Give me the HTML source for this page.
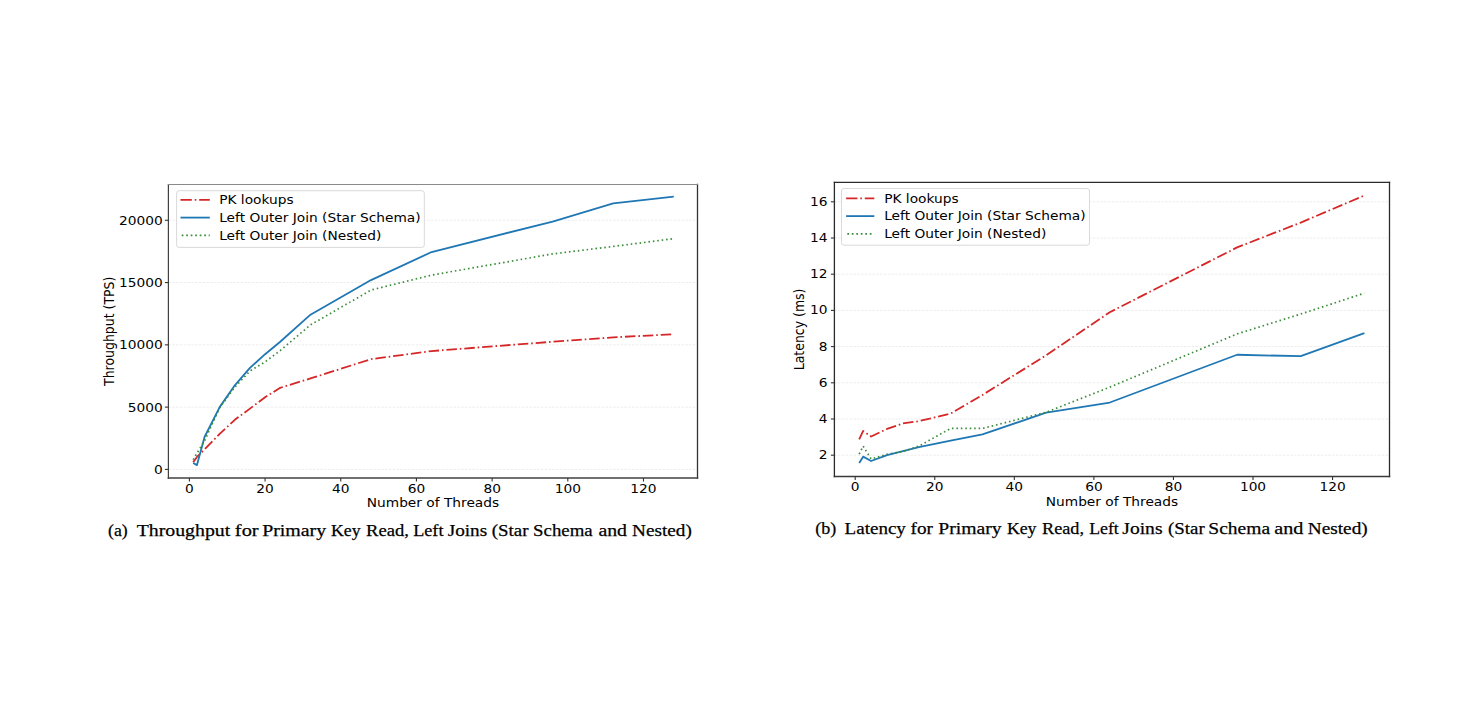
<!DOCTYPE html>
<html><head><meta charset="utf-8"><title>Throughput and Latency</title>
<style>html,body{margin:0;padding:0;background:#fff;} body{width:1483px;height:711px;overflow:hidden;} svg{display:block;}</style>
</head><body>
<svg width="1483" height="711" viewBox="0 0 1483 711">
<rect width="1483" height="711" fill="#fff"/>
<clipPath id="cl"><rect x="168.4" y="184.5" width="529.1" height="293.6"/></clipPath>
<line x1="168.4" y1="469.4" x2="697.5" y2="469.4" stroke="#ededed" stroke-width="1" stroke-dasharray="2.6,1.2"/>
<line x1="168.4" y1="407.12" x2="697.5" y2="407.12" stroke="#ededed" stroke-width="1" stroke-dasharray="2.6,1.2"/>
<line x1="168.4" y1="344.84" x2="697.5" y2="344.84" stroke="#ededed" stroke-width="1" stroke-dasharray="2.6,1.2"/>
<line x1="168.4" y1="282.56" x2="697.5" y2="282.56" stroke="#ededed" stroke-width="1" stroke-dasharray="2.6,1.2"/>
<line x1="168.4" y1="220.28" x2="697.5" y2="220.28" stroke="#ededed" stroke-width="1" stroke-dasharray="2.6,1.2"/>
<polyline points="193.18,462.3 196.97,456.94 204.54,449.47 219.67,433.9 234.81,419.83 249.94,408.61 265.08,397.16 280.22,387.81 310.49,378.47 371.03,359.16 431.58,351.07 552.66,341.73 613.21,337.37 673.75,334.25" fill="none" stroke="#d62728" stroke-width="1.8" stroke-linejoin="round" stroke-linecap="butt" stroke-dasharray="10.5,2.9,1.6,2.9" clip-path="url(#cl)"/>
<polyline points="193.18,462.92 196.97,465.1 204.54,437.01 219.67,407.12 234.81,385.32 249.94,367.88 265.08,354.18 280.22,341.73 310.49,314.7 371.03,280.07 431.58,252.04 552.66,221.53 613.21,203.46 673.75,196.61" fill="none" stroke="#1f77b4" stroke-width="1.8" stroke-linejoin="round" stroke-linecap="butt" clip-path="url(#cl)"/>
<polyline points="193.18,459.68 196.97,453.21 204.54,440.75 219.67,407.74 234.81,387.19 249.94,371 265.08,361.9 280.22,350.57 310.49,324.91 371.03,290.03 431.58,275.09 552.66,253.91 613.21,246.44 673.75,238.65" fill="none" stroke="#3a8c3a" stroke-width="1.7" stroke-linejoin="round" stroke-linecap="butt" stroke-dasharray="1.55,2.9" clip-path="url(#cl)"/>
<line x1="168.4" y1="184.5" x2="168.4" y2="478.1" stroke="#404040" stroke-width="1.2" stroke-linecap="square"/>
<line x1="697.5" y1="184.5" x2="697.5" y2="478.1" stroke="#333" stroke-width="1.3" stroke-linecap="square"/>
<line x1="168.4" y1="184.5" x2="697.5" y2="184.5" stroke="#8a8a8a" stroke-width="1.1" stroke-linecap="square"/>
<line x1="168.4" y1="478.1" x2="697.5" y2="478.1" stroke="#404040" stroke-width="1.5" stroke-linecap="square"/>
<line x1="189.4" y1="478.1" x2="189.4" y2="481.6" stroke="#333333" stroke-width="1.1"/>
<text transform="translate(189.4,492.8) scale(1.1,1)" text-anchor="middle" font-size="12.5" font-family="'DejaVu Sans', 'Liberation Sans', sans-serif" fill="#000">0</text>
<line x1="265.08" y1="478.1" x2="265.08" y2="481.6" stroke="#333333" stroke-width="1.1"/>
<text transform="translate(265.08,492.8) scale(1.1,1)" text-anchor="middle" font-size="12.5" font-family="'DejaVu Sans', 'Liberation Sans', sans-serif" fill="#000">20</text>
<line x1="340.76" y1="478.1" x2="340.76" y2="481.6" stroke="#333333" stroke-width="1.1"/>
<text transform="translate(340.76,492.8) scale(1.1,1)" text-anchor="middle" font-size="12.5" font-family="'DejaVu Sans', 'Liberation Sans', sans-serif" fill="#000">40</text>
<line x1="416.44" y1="478.1" x2="416.44" y2="481.6" stroke="#333333" stroke-width="1.1"/>
<text transform="translate(416.44,492.8) scale(1.1,1)" text-anchor="middle" font-size="12.5" font-family="'DejaVu Sans', 'Liberation Sans', sans-serif" fill="#000">60</text>
<line x1="492.12" y1="478.1" x2="492.12" y2="481.6" stroke="#333333" stroke-width="1.1"/>
<text transform="translate(492.12,492.8) scale(1.1,1)" text-anchor="middle" font-size="12.5" font-family="'DejaVu Sans', 'Liberation Sans', sans-serif" fill="#000">80</text>
<line x1="567.8" y1="478.1" x2="567.8" y2="481.6" stroke="#333333" stroke-width="1.1"/>
<text transform="translate(567.8,492.8) scale(1.1,1)" text-anchor="middle" font-size="12.5" font-family="'DejaVu Sans', 'Liberation Sans', sans-serif" fill="#000">100</text>
<line x1="643.48" y1="478.1" x2="643.48" y2="481.6" stroke="#333333" stroke-width="1.1"/>
<text transform="translate(643.48,492.8) scale(1.1,1)" text-anchor="middle" font-size="12.5" font-family="'DejaVu Sans', 'Liberation Sans', sans-serif" fill="#000">120</text>
<line x1="164.9" y1="469.4" x2="168.4" y2="469.4" stroke="#333333" stroke-width="1.1"/>
<text transform="translate(162.8,473.9) scale(1.1,1)" text-anchor="end" font-size="12.5" font-family="'DejaVu Sans', 'Liberation Sans', sans-serif" fill="#000">0</text>
<line x1="164.9" y1="407.12" x2="168.4" y2="407.12" stroke="#333333" stroke-width="1.1"/>
<text transform="translate(162.8,411.62) scale(1.1,1)" text-anchor="end" font-size="12.5" font-family="'DejaVu Sans', 'Liberation Sans', sans-serif" fill="#000">5000</text>
<line x1="164.9" y1="344.84" x2="168.4" y2="344.84" stroke="#333333" stroke-width="1.1"/>
<text transform="translate(162.8,349.34) scale(1.1,1)" text-anchor="end" font-size="12.5" font-family="'DejaVu Sans', 'Liberation Sans', sans-serif" fill="#000">10000</text>
<line x1="164.9" y1="282.56" x2="168.4" y2="282.56" stroke="#333333" stroke-width="1.1"/>
<text transform="translate(162.8,287.06) scale(1.1,1)" text-anchor="end" font-size="12.5" font-family="'DejaVu Sans', 'Liberation Sans', sans-serif" fill="#000">15000</text>
<line x1="164.9" y1="220.28" x2="168.4" y2="220.28" stroke="#333333" stroke-width="1.1"/>
<text transform="translate(162.8,224.78) scale(1.1,1)" text-anchor="end" font-size="12.5" font-family="'DejaVu Sans', 'Liberation Sans', sans-serif" fill="#000">20000</text>
<text transform="translate(432.95,506.7) scale(1.1,1)" text-anchor="middle" font-size="12.5" font-family="'DejaVu Sans', 'Liberation Sans', sans-serif" fill="#000">Number of Threads</text>
<text transform="translate(114.2,331.3) rotate(-90) scale(1,1.1)" text-anchor="middle" font-size="12.5" font-family="'DejaVu Sans', 'Liberation Sans', sans-serif" fill="#000">Throughput (TPS)</text>
<rect x="176.6" y="190.7" width="247.7" height="56.7" rx="2.5" fill="#fff" fill-opacity="0.85" stroke="#d9d9d9" stroke-width="1"/>
<line x1="180.5" y1="199.9" x2="209.8" y2="199.9" stroke="#d62728" stroke-width="1.8" stroke-dasharray="11.3,2.9,1.6,2.9"/>
<text transform="translate(219.2,204.1) scale(1.1,1)" text-anchor="start" font-size="12.5" font-family="'DejaVu Sans', 'Liberation Sans', sans-serif" fill="#000">PK lookups</text>
<line x1="180.5" y1="217.6" x2="209.8" y2="217.6" stroke="#1f77b4" stroke-width="1.8"/>
<text transform="translate(219.2,221.8) scale(1.1,1)" text-anchor="start" font-size="12.5" font-family="'DejaVu Sans', 'Liberation Sans', sans-serif" fill="#000">Left Outer Join (Star Schema)</text>
<line x1="180.5" y1="235.3" x2="209.8" y2="235.3" stroke="#3a8c3a" stroke-width="1.8" stroke-dasharray="1.7,2.8" stroke-dashoffset="-1.2"/>
<text transform="translate(219.2,239.5) scale(1.1,1)" text-anchor="start" font-size="12.5" font-family="'DejaVu Sans', 'Liberation Sans', sans-serif" fill="#000">Left Outer Join (Nested)</text>
<text x="108.05" y="536" font-size="17.6" font-family="'Liberation Serif', 'DejaVu Serif', serif" fill="#000" stroke="#000" stroke-width="0.25" textLength="19.71" lengthAdjust="spacingAndGlyphs">(a)</text>
<text x="136.75" y="536" font-size="17.6" font-family="'Liberation Serif', 'DejaVu Serif', serif" fill="#000" stroke="#000" stroke-width="0.25" textLength="93.43" lengthAdjust="spacingAndGlyphs">Throughput</text>
<text x="234.89" y="536" font-size="17.6" font-family="'Liberation Serif', 'DejaVu Serif', serif" fill="#000" stroke="#000" stroke-width="0.25" textLength="23.79" lengthAdjust="spacingAndGlyphs">for</text>
<text x="262.15" y="536" font-size="17.6" font-family="'Liberation Serif', 'DejaVu Serif', serif" fill="#000" stroke="#000" stroke-width="0.25" textLength="63.98" lengthAdjust="spacingAndGlyphs">Primary</text>
<text x="331.01" y="536" font-size="17.6" font-family="'Liberation Serif', 'DejaVu Serif', serif" fill="#000" stroke="#000" stroke-width="0.25" textLength="29.55" lengthAdjust="spacingAndGlyphs">Key</text>
<text x="365.99" y="536" font-size="17.6" font-family="'Liberation Serif', 'DejaVu Serif', serif" fill="#000" stroke="#000" stroke-width="0.25" textLength="42.87" lengthAdjust="spacingAndGlyphs">Read,</text>
<text x="413.2" y="536" font-size="17.6" font-family="'Liberation Serif', 'DejaVu Serif', serif" fill="#000" stroke="#000" stroke-width="0.25" textLength="30.3" lengthAdjust="spacingAndGlyphs">Left</text>
<text x="447.72" y="536" font-size="17.6" font-family="'Liberation Serif', 'DejaVu Serif', serif" fill="#000" stroke="#000" stroke-width="0.25" textLength="39.48" lengthAdjust="spacingAndGlyphs">Joins</text>
<text x="491.8" y="536" font-size="17.6" font-family="'Liberation Serif', 'DejaVu Serif', serif" fill="#000" stroke="#000" stroke-width="0.25" textLength="36.67" lengthAdjust="spacingAndGlyphs">(Star</text>
<text x="533.13" y="536" font-size="17.6" font-family="'Liberation Serif', 'DejaVu Serif', serif" fill="#000" stroke="#000" stroke-width="0.25" textLength="59.52" lengthAdjust="spacingAndGlyphs">Schema</text>
<text x="598.41" y="536" font-size="17.6" font-family="'Liberation Serif', 'DejaVu Serif', serif" fill="#000" stroke="#000" stroke-width="0.25" textLength="28.62" lengthAdjust="spacingAndGlyphs">and</text>
<text x="632.07" y="536" font-size="17.6" font-family="'Liberation Serif', 'DejaVu Serif', serif" fill="#000" stroke="#000" stroke-width="0.25" textLength="59.74" lengthAdjust="spacingAndGlyphs">Nested)</text>
<clipPath id="cr"><rect x="834.4" y="182.3" width="555.1" height="294.2"/></clipPath>
<line x1="834.4" y1="455.2" x2="1389.5" y2="455.2" stroke="#ededed" stroke-width="1" stroke-dasharray="2.6,1.2"/>
<line x1="834.4" y1="419" x2="1389.5" y2="419" stroke="#ededed" stroke-width="1" stroke-dasharray="2.6,1.2"/>
<line x1="834.4" y1="382.8" x2="1389.5" y2="382.8" stroke="#ededed" stroke-width="1" stroke-dasharray="2.6,1.2"/>
<line x1="834.4" y1="346.6" x2="1389.5" y2="346.6" stroke="#ededed" stroke-width="1" stroke-dasharray="2.6,1.2"/>
<line x1="834.4" y1="310.4" x2="1389.5" y2="310.4" stroke="#ededed" stroke-width="1" stroke-dasharray="2.6,1.2"/>
<line x1="834.4" y1="274.2" x2="1389.5" y2="274.2" stroke="#ededed" stroke-width="1" stroke-dasharray="2.6,1.2"/>
<line x1="834.4" y1="238" x2="1389.5" y2="238" stroke="#ededed" stroke-width="1" stroke-dasharray="2.6,1.2"/>
<line x1="834.4" y1="201.8" x2="1389.5" y2="201.8" stroke="#ededed" stroke-width="1" stroke-dasharray="2.6,1.2"/>
<polyline points="859.18,439.45 863.16,430.95 871.11,436.56 887.02,428.95 902.94,423.34 918.85,421.17 934.76,417.37 950.67,413.57 982.5,394.93 1046.14,355.29 1109.79,312.21 1237.09,247.41 1300.74,222.61 1364.38,195.46" fill="none" stroke="#d62728" stroke-width="1.8" stroke-linejoin="round" stroke-linecap="butt" stroke-dasharray="10.5,2.9,1.6,2.9" clip-path="url(#cr)"/>
<polyline points="859.18,462.98 863.16,456.65 871.11,460.99 887.02,455.2 902.94,451.22 918.85,447.06 934.76,443.98 950.67,440.72 982.5,434.38 1046.14,412.66 1109.79,402.53 1237.09,354.75 1300.74,356.19 1364.38,333.21" fill="none" stroke="#1f77b4" stroke-width="1.8" stroke-linejoin="round" stroke-linecap="butt" clip-path="url(#cr)"/>
<polyline points="859.18,454.11 863.16,446.15 871.11,459 887.02,454.3 902.94,451.58 918.85,446.15 934.76,437.28 950.67,428.41 982.5,428.41 1046.14,412.3 1109.79,387.14 1237.09,333.93 1300.74,314.02 1364.38,293.2" fill="none" stroke="#3a8c3a" stroke-width="1.7" stroke-linejoin="round" stroke-linecap="butt" stroke-dasharray="1.55,2.9" clip-path="url(#cr)"/>
<line x1="834.4" y1="182.3" x2="834.4" y2="476.5" stroke="#2a2a2a" stroke-width="1.3" stroke-linecap="square"/>
<line x1="1389.5" y1="182.3" x2="1389.5" y2="476.5" stroke="#2a2a2a" stroke-width="1.3" stroke-linecap="square"/>
<line x1="834.4" y1="182.3" x2="1389.5" y2="182.3" stroke="#2a2a2a" stroke-width="1.3" stroke-linecap="square"/>
<line x1="834.4" y1="476.5" x2="1389.5" y2="476.5" stroke="#3a3a3a" stroke-width="1.4" stroke-linecap="square"/>
<line x1="855.2" y1="476.5" x2="855.2" y2="480" stroke="#333333" stroke-width="1.1"/>
<text transform="translate(855.2,490.9) scale(1.1,1)" text-anchor="middle" font-size="12.5" font-family="'DejaVu Sans', 'Liberation Sans', sans-serif" fill="#000">0</text>
<line x1="934.76" y1="476.5" x2="934.76" y2="480" stroke="#333333" stroke-width="1.1"/>
<text transform="translate(934.76,490.9) scale(1.1,1)" text-anchor="middle" font-size="12.5" font-family="'DejaVu Sans', 'Liberation Sans', sans-serif" fill="#000">20</text>
<line x1="1014.32" y1="476.5" x2="1014.32" y2="480" stroke="#333333" stroke-width="1.1"/>
<text transform="translate(1014.32,490.9) scale(1.1,1)" text-anchor="middle" font-size="12.5" font-family="'DejaVu Sans', 'Liberation Sans', sans-serif" fill="#000">40</text>
<line x1="1093.88" y1="476.5" x2="1093.88" y2="480" stroke="#333333" stroke-width="1.1"/>
<text transform="translate(1093.88,490.9) scale(1.1,1)" text-anchor="middle" font-size="12.5" font-family="'DejaVu Sans', 'Liberation Sans', sans-serif" fill="#000">60</text>
<line x1="1173.44" y1="476.5" x2="1173.44" y2="480" stroke="#333333" stroke-width="1.1"/>
<text transform="translate(1173.44,490.9) scale(1.1,1)" text-anchor="middle" font-size="12.5" font-family="'DejaVu Sans', 'Liberation Sans', sans-serif" fill="#000">80</text>
<line x1="1253" y1="476.5" x2="1253" y2="480" stroke="#333333" stroke-width="1.1"/>
<text transform="translate(1253,490.9) scale(1.1,1)" text-anchor="middle" font-size="12.5" font-family="'DejaVu Sans', 'Liberation Sans', sans-serif" fill="#000">100</text>
<line x1="1332.56" y1="476.5" x2="1332.56" y2="480" stroke="#333333" stroke-width="1.1"/>
<text transform="translate(1332.56,490.9) scale(1.1,1)" text-anchor="middle" font-size="12.5" font-family="'DejaVu Sans', 'Liberation Sans', sans-serif" fill="#000">120</text>
<line x1="830.9" y1="455.2" x2="834.4" y2="455.2" stroke="#333333" stroke-width="1.1"/>
<text transform="translate(827.5,459.2) scale(1.1,1)" text-anchor="end" font-size="12.5" font-family="'DejaVu Sans', 'Liberation Sans', sans-serif" fill="#000">2</text>
<line x1="830.9" y1="419" x2="834.4" y2="419" stroke="#333333" stroke-width="1.1"/>
<text transform="translate(827.5,423) scale(1.1,1)" text-anchor="end" font-size="12.5" font-family="'DejaVu Sans', 'Liberation Sans', sans-serif" fill="#000">4</text>
<line x1="830.9" y1="382.8" x2="834.4" y2="382.8" stroke="#333333" stroke-width="1.1"/>
<text transform="translate(827.5,386.8) scale(1.1,1)" text-anchor="end" font-size="12.5" font-family="'DejaVu Sans', 'Liberation Sans', sans-serif" fill="#000">6</text>
<line x1="830.9" y1="346.6" x2="834.4" y2="346.6" stroke="#333333" stroke-width="1.1"/>
<text transform="translate(827.5,350.6) scale(1.1,1)" text-anchor="end" font-size="12.5" font-family="'DejaVu Sans', 'Liberation Sans', sans-serif" fill="#000">8</text>
<line x1="830.9" y1="310.4" x2="834.4" y2="310.4" stroke="#333333" stroke-width="1.1"/>
<text transform="translate(827.5,314.4) scale(1.1,1)" text-anchor="end" font-size="12.5" font-family="'DejaVu Sans', 'Liberation Sans', sans-serif" fill="#000">10</text>
<line x1="830.9" y1="274.2" x2="834.4" y2="274.2" stroke="#333333" stroke-width="1.1"/>
<text transform="translate(827.5,278.2) scale(1.1,1)" text-anchor="end" font-size="12.5" font-family="'DejaVu Sans', 'Liberation Sans', sans-serif" fill="#000">12</text>
<line x1="830.9" y1="238" x2="834.4" y2="238" stroke="#333333" stroke-width="1.1"/>
<text transform="translate(827.5,242) scale(1.1,1)" text-anchor="end" font-size="12.5" font-family="'DejaVu Sans', 'Liberation Sans', sans-serif" fill="#000">14</text>
<line x1="830.9" y1="201.8" x2="834.4" y2="201.8" stroke="#333333" stroke-width="1.1"/>
<text transform="translate(827.5,205.8) scale(1.1,1)" text-anchor="end" font-size="12.5" font-family="'DejaVu Sans', 'Liberation Sans', sans-serif" fill="#000">16</text>
<text transform="translate(1111.95,506) scale(1.1,1)" text-anchor="middle" font-size="12.5" font-family="'DejaVu Sans', 'Liberation Sans', sans-serif" fill="#000">Number of Threads</text>
<text transform="translate(804,329.4) rotate(-90) scale(1,1.1)" text-anchor="middle" font-size="12.5" font-family="'DejaVu Sans', 'Liberation Sans', sans-serif" fill="#000">Latency (ms)</text>
<rect x="841.5" y="188.5" width="248" height="56.7" rx="2.5" fill="#fff" fill-opacity="0.85" stroke="#d9d9d9" stroke-width="1"/>
<line x1="846.1" y1="198.3" x2="874.3" y2="198.3" stroke="#d62728" stroke-width="1.8" stroke-dasharray="11.3,2.9,1.6,2.9"/>
<text transform="translate(884.2,202.5) scale(1.1,1)" text-anchor="start" font-size="12.5" font-family="'DejaVu Sans', 'Liberation Sans', sans-serif" fill="#000">PK lookups</text>
<line x1="846.1" y1="216.1" x2="874.3" y2="216.1" stroke="#1f77b4" stroke-width="1.8"/>
<text transform="translate(884.2,220.3) scale(1.1,1)" text-anchor="start" font-size="12.5" font-family="'DejaVu Sans', 'Liberation Sans', sans-serif" fill="#000">Left Outer Join (Star Schema)</text>
<line x1="846.1" y1="233.8" x2="874.3" y2="233.8" stroke="#3a8c3a" stroke-width="1.8" stroke-dasharray="1.7,2.8" stroke-dashoffset="-1.2"/>
<text transform="translate(884.2,238) scale(1.1,1)" text-anchor="start" font-size="12.5" font-family="'DejaVu Sans', 'Liberation Sans', sans-serif" fill="#000">Left Outer Join (Nested)</text>
<text x="815.33" y="533.7" font-size="17.6" font-family="'Liberation Serif', 'DejaVu Serif', serif" fill="#000" stroke="#000" stroke-width="0.25" textLength="21.05" lengthAdjust="spacingAndGlyphs">(b)</text>
<text x="844.58" y="533.7" font-size="17.6" font-family="'Liberation Serif', 'DejaVu Serif', serif" fill="#000" stroke="#000" stroke-width="0.25" textLength="61.28" lengthAdjust="spacingAndGlyphs">Latency</text>
<text x="910.53" y="533.7" font-size="17.6" font-family="'Liberation Serif', 'DejaVu Serif', serif" fill="#000" stroke="#000" stroke-width="0.25" textLength="22.34" lengthAdjust="spacingAndGlyphs">for</text>
<text x="938.26" y="533.7" font-size="17.6" font-family="'Liberation Serif', 'DejaVu Serif', serif" fill="#000" stroke="#000" stroke-width="0.25" textLength="63.27" lengthAdjust="spacingAndGlyphs">Primary</text>
<text x="1006.91" y="533.7" font-size="17.6" font-family="'Liberation Serif', 'DejaVu Serif', serif" fill="#000" stroke="#000" stroke-width="0.25" textLength="29.55" lengthAdjust="spacingAndGlyphs">Key</text>
<text x="1042" y="533.7" font-size="17.6" font-family="'Liberation Serif', 'DejaVu Serif', serif" fill="#000" stroke="#000" stroke-width="0.25" textLength="42.04" lengthAdjust="spacingAndGlyphs">Read,</text>
<text x="1089.21" y="533.7" font-size="17.6" font-family="'Liberation Serif', 'DejaVu Serif', serif" fill="#000" stroke="#000" stroke-width="0.25" textLength="29.59" lengthAdjust="spacingAndGlyphs">Left</text>
<text x="1122.31" y="533.7" font-size="17.6" font-family="'Liberation Serif', 'DejaVu Serif', serif" fill="#000" stroke="#000" stroke-width="0.25" textLength="40.2" lengthAdjust="spacingAndGlyphs">Joins</text>
<text x="1168.1" y="533.7" font-size="17.6" font-family="'Liberation Serif', 'DejaVu Serif', serif" fill="#000" stroke="#000" stroke-width="0.25" textLength="36.57" lengthAdjust="spacingAndGlyphs">(Star</text>
<text x="1208.39" y="533.7" font-size="17.6" font-family="'Liberation Serif', 'DejaVu Serif', serif" fill="#000" stroke="#000" stroke-width="0.25" textLength="61.67" lengthAdjust="spacingAndGlyphs">Schema</text>
<text x="1274.29" y="533.7" font-size="17.6" font-family="'Liberation Serif', 'DejaVu Serif', serif" fill="#000" stroke="#000" stroke-width="0.25" textLength="29.14" lengthAdjust="spacingAndGlyphs">and</text>
<text x="1307.77" y="533.7" font-size="17.6" font-family="'Liberation Serif', 'DejaVu Serif', serif" fill="#000" stroke="#000" stroke-width="0.25" textLength="59.95" lengthAdjust="spacingAndGlyphs">Nested)</text>
</svg>
</body></html>
